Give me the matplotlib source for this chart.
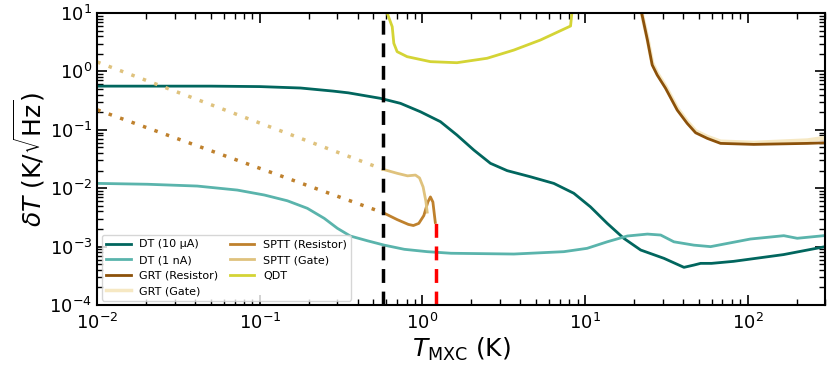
import numpy as np
import matplotlib
matplotlib.use("Agg")
import matplotlib.pyplot as plt

# DT (10 uA)
dt10_T = [0.01, 0.05, 0.1, 0.178, 0.283, 0.35, 0.552, 0.733, 0.972, 1.29, 1.63, 2.07, 2.62,
          3.32, 4.62, 6.43, 8.53, 10.8, 13.7, 17.3, 22, 30.6, 40.6, 46.8, 51.4, 60,
          82, 166, 300]
dt10_y = [0.56, 0.56, 0.55, 0.52, 0.46, 0.43, 0.346, 0.284, 0.204, 0.138, 0.0815, 0.0451, 0.0267,
          0.02, 0.0157, 0.0121, 0.0082, 0.0048, 0.0025, 0.00139, 0.000875, 0.00063, 0.000442,
          0.000484, 0.000517, 0.000517, 0.00056, 0.00073, 0.001]

# DT (1 nA)
dt1_T = [0.01, 0.0203, 0.0412, 0.0727, 0.1067, 0.1477, 0.196, 0.249, 0.3, 0.36, 0.459,
         0.583, 0.774, 1.07, 1.5, 3.65, 7.41, 10.3, 13.7, 18.2, 24.2, 29.2, 35.2, 46.8,
         59.2, 104, 167, 202, 294]
dt1_y = [0.0121, 0.0117, 0.0109, 0.0093, 0.00765, 0.0061, 0.00453, 0.00305, 0.00206, 0.00152,
         0.00126, 0.00106, 0.0009, 0.00082, 0.00077, 0.000747, 0.00082, 0.000935, 0.00121,
         0.00152, 0.00164, 0.00158, 0.00121, 0.00106, 0.001, 0.00135, 0.00154, 0.00139, 0.00154]

# GRT (Resistor) and GRT (Gate)
grt_T = [22.3, 24.2, 25.9, 27.8, 31.3, 36.9, 42.5, 47.9, 56.5, 68.2, 109, 233, 300]
grtr_y = [10, 3.45, 1.29, 0.867, 0.514, 0.218, 0.129, 0.089, 0.0714, 0.0586, 0.0563, 0.0586, 0.06]
grtg_y = [10, 3.7, 1.4, 0.93, 0.55, 0.235, 0.138, 0.095, 0.076, 0.063, 0.06, 0.066, 0.073]

# SPTT, dotted extrapolation then measured
spttr_ext_T = [0.01, 0.575]
spttr_ext_y = [0.22, 0.0038]
spttg_ext_T = [0.01, 0.575]
spttg_ext_y = [1.45, 0.021]
spttr_T = [0.575, 0.7, 0.82, 0.88, 0.95, 1.02, 1.08, 1.12, 1.16, 1.20]
spttr_y = [0.0038, 0.0029, 0.0024, 0.0023, 0.0025, 0.0034, 0.0058, 0.0071, 0.0058, 0.0026]
spttg_T = [0.575, 0.7, 0.81, 0.906, 0.96, 1.01, 1.05, 1.07]
spttg_y = [0.021, 0.018, 0.0163, 0.0168, 0.015, 0.0105, 0.006, 0.0039]

# QDT
qdt_T = [0.607, 0.652, 0.667, 0.699, 0.805, 1.12, 1.63, 2.5, 3.65, 5.32, 8.15, 8.3]
qdt_y = [10, 5.83, 3.03, 2.18, 1.79, 1.47, 1.41, 1.68, 2.32, 3.45, 5.99, 10]

T_base = 0.575
T_sptt_end = 1.22
sptt_end_y = 0.0026

plt.figure(figsize=(8.31, 3.72), dpi=100)
ax = plt.gca()

ax.plot(dt10_T, dt10_y, color="#01665e", lw=2, label="DT (10 µA)")
ax.plot(dt1_T, dt1_y, color="#5ab4ac", lw=2, label="DT (1 nA)")
ax.plot(grt_T, grtg_y, color="#f6e8c3", lw=3, label="_nolegend_")
ax.plot(grt_T, grtr_y, color="#8c510a", lw=2, label="GRT (Resistor)")
ax.plot([], [], color="#f6e8c3", lw=2.5, label="GRT (Gate)")
ax.plot(spttr_ext_T, spttr_ext_y, color="#bf812d", lw=2.5, ls=(0, (1, 2.5)))
ax.plot(spttg_ext_T, spttg_ext_y, color="#dfc27d", lw=2.5, ls=(0, (1, 2.5)))
ax.plot(spttr_T, spttr_y, color="#bf812d", lw=2, label="SPTT (Resistor)")
ax.plot(spttg_T, spttg_y, color="#dfc27d", lw=2, label="SPTT (Gate)")
ax.plot(qdt_T, qdt_y, color="#d4d435", lw=2, label="QDT")

ax.axvline(T_base, color="black", lw=2.5, ls=(0, (4, 2.5)))
ax.plot([T_sptt_end, T_sptt_end], [1e-4, sptt_end_y], color="red", lw=2.5, ls=(0, (4, 2.5)))

ax.set_xscale("log")
ax.set_yscale("log")
ax.set_xlim(1e-2, 300)
ax.set_ylim(1e-4, 10)
ax.set_xlabel(r"$T_{\mathrm{MXC}}$ (K)", fontsize=18, labelpad=2)
ax.set_ylabel(r"$\delta T$ (K/$\sqrt{\mathrm{Hz}}$)", fontsize=18, labelpad=2)
ax.tick_params(which="both", direction="in", top=True, right=True, labelsize=13)
ax.tick_params(which="major", length=7, width=1.2)
ax.tick_params(which="minor", length=4, width=1)
ax.tick_params(axis="x", pad=6)
for s in ax.spines.values():
    s.set_linewidth(1.5)

ax.legend(loc="lower left", ncol=2, fontsize=8, columnspacing=1.0, handlelength=2.2,
          borderaxespad=0.4)

plt.subplots_adjust(left=0.117, right=0.993, top=0.965, bottom=0.18)
plt.savefig("out.png", dpi=100)
